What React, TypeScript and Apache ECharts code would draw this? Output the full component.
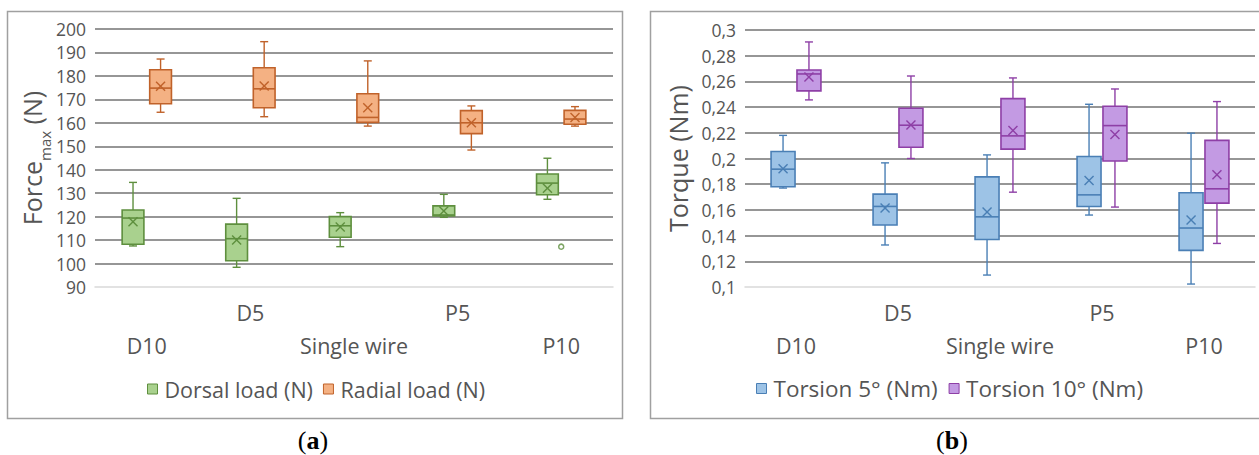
import React, { useEffect, useRef } from "react";
import * as echarts from "echarts";

const categories = ["D10", "D5", "Single wire", "P5", "P10"];
// each row: [whisker low, Q1, median, Q3, whisker high, mean]
const dorsalLoad = [
  [107.5, 108.2, 119.4, 122.8, 134.6, 117.8],
  [98.4, 101.2, 110.6, 116.8, 127.8, 110.0],
  [107.2, 111.2, 116.1, 120.0, 121.7, 115.6],
  [119.7, 120.3, 120.7, 124.6, 129.5, 122.4],
  [127.4, 129.3, 134.3, 138.2, 144.9, 132.1],
];
const radialLoad = [
  [164.5, 168.1, 174.8, 182.6, 187.2, 175.6],
  [162.6, 166.4, 174.5, 183.5, 194.6, 175.7],
  [158.6, 160.2, 162.3, 172.4, 186.4, 166.4],
  [148.4, 155.4, 160.0, 165.2, 167.2, 160.0],
  [158.6, 159.4, 161.6, 165.3, 166.9, 162.3],
];
const dorsalOutliers = [[4, 107.2]];
const torsion5 = [
  [0.177, 0.178, 0.1917, 0.2054, 0.218, 0.192],
  [0.1327, 0.1482, 0.1627, 0.1723, 0.1966, 0.1614],
  [0.1093, 0.137, 0.1546, 0.1857, 0.2028, 0.1583],
  [0.156, 0.1627, 0.1717, 0.2015, 0.2422, 0.1828],
  [0.1023, 0.1285, 0.1459, 0.1733, 0.2197, 0.1521],
];
const torsion10 = [
  [0.2456, 0.2526, 0.2658, 0.2689, 0.2907, 0.2635],
  [0.2, 0.2088, 0.2259, 0.2391, 0.2642, 0.226],
  [0.1738, 0.2073, 0.2176, 0.2466, 0.2627, 0.2217],
  [0.1622, 0.198, 0.2256, 0.2407, 0.2541, 0.2186],
  [0.1339, 0.1653, 0.1764, 0.2141, 0.2443, 0.1873],
];
const forceTicks = { min: 90, max: 200, interval: 10 };
const torqueTicks = { min: 0.1, max: 0.3, interval: 0.02 };

const FONT = "Open Sans";
const TXT = "#555555";

function boxSeries(name: string, rows: number[][], xAxisIndex: number, fill: string, stroke: string, offset: number, widthFrac: number) {
  return {
    type: "custom",
    name,
    xAxisIndex,
    yAxisIndex: xAxisIndex,
    itemStyle: { color: fill, borderColor: stroke },
    encode: { x: 0, y: [1, 2, 3, 4, 5, 6] },
    data: rows.map((r, i) => [i, ...r]),
    renderItem: (params: any, api: any) => {
      const idx = api.value(0);
      const band = api.size([1, 0])[0];
      const cx = api.coord([idx, 0])[0] + offset * band;
      const y = (k: number) => api.coord([idx, api.value(k)])[1];
      const yLo = y(1), yQ1 = y(2), yMed = y(3), yQ3 = y(4), yHi = y(5), yMean = y(6);
      const w = (widthFrac * band) / 2;
      const cap = 4;
      const ls = { stroke, lineWidth: 1.4 };
      const m = 4.5;
      return {
        type: "group",
        children: [
          { type: "line", shape: { x1: cx, y1: yHi, x2: cx, y2: yQ3 }, style: ls },
          { type: "line", shape: { x1: cx - cap, y1: yHi, x2: cx + cap, y2: yHi }, style: ls },
          { type: "line", shape: { x1: cx, y1: yLo, x2: cx, y2: yQ1 }, style: ls },
          { type: "line", shape: { x1: cx - cap, y1: yLo, x2: cx + cap, y2: yLo }, style: ls },
          { type: "rect", shape: { x: cx - w, y: yQ3, width: 2 * w, height: yQ1 - yQ3 }, style: { fill, stroke, lineWidth: 1.6 } },
          { type: "line", shape: { x1: cx - w, y1: yMed, x2: cx + w, y2: yMed }, style: { stroke, lineWidth: 1.6 } },
          { type: "line", shape: { x1: cx - m, y1: yMean - m, x2: cx + m, y2: yMean + m }, style: ls },
          { type: "line", shape: { x1: cx - m, y1: yMean + m, x2: cx + m, y2: yMean - m }, style: ls },
        ],
      };
    },
  };
}

function catAxis(gridIndex: number) {
  return {
    type: "category",
    gridIndex,
    data: categories,
    boundaryGap: true,
    axisTick: { show: false },
    axisLine: { lineStyle: { color: "#d9d9d9", width: 1.5 } },
    axisLabel: {
      interval: 0,
      margin: 9,
      color: TXT,
      fontFamily: FONT,
      fontSize: 21.5,
      lineHeight: 33,
      formatter: (v: string, i: number) => (i % 2 === 0 ? "\n" + v : v),
    },
  };
}

function valAxis(gridIndex: number, ticks: any, name: string, nameGap: number, formatter: any, rich: any) {
  return {
    type: "value",
    gridIndex,
    min: ticks.min,
    max: ticks.max,
    interval: ticks.interval,
    name,
    nameLocation: "middle",
    nameGap,
    nameTextStyle: { color: TXT, fontFamily: FONT, fontSize: 25, rich },
    axisLine: { show: false },
    axisTick: { show: false },
    axisLabel: { color: TXT, fontFamily: FONT, fontSize: 17.5, margin: 9, formatter },
    splitLine: { show: true, showMinLine: false, lineStyle: { color: "#969696", width: 2 } },
  };
}

export default function App() {
  const ref = useRef<HTMLDivElement>(null);
  useEffect(() => {
    if (!ref.current) return;
    const chart = echarts.init(ref.current, null, { renderer: "svg" });
    const G = "#a9d18e", GS = "#5e8f3e";
    const O = "#f4b183", OS = "#c0622a";
    const B = "#9dc3e6", BS = "#4a7fb5";
    const P = "#c39ae3", PS = "#8e3fa6";
    const legendText = { color: TXT, fontFamily: FONT, fontSize: 21.5, padding: [0, 0, 0, 2] };
    const legendText2 = { color: TXT, fontFamily: FONT, fontSize: 22.5, padding: [0, 0, 0, 2] };
    chart.setOption({
      animation: false,
      backgroundColor: "#ffffff",
      grid: [
        { left: 95, top: 29, width: 518, height: 258 },
        { left: 745, top: 30, width: 510, height: 257 },
      ],
      xAxis: [catAxis(0), catAxis(1)],
      yAxis: [
        valAxis(0, forceTicks, "{a|Force}{s|max}{a| (N)}", 50, (v: number) => String(v), {
          a: { fontSize: 25, fontFamily: FONT, color: TXT, lineHeight: 30, verticalAlign: "bottom" },
          s: { fontSize: 15, fontFamily: FONT, color: TXT, lineHeight: 30, verticalAlign: "bottom", padding: [0, 0, -8, 0] },
        }),
        valAxis(1, torqueTicks, "Torque (Nm)", 55, (v: number) => String(parseFloat(v.toFixed(2))).replace(".", ","), {}),
      ],
      legend: [
        {
          left: 142, top: 373, icon: "rect", itemWidth: 10, itemHeight: 10, itemGap: 10,
          textStyle: legendText,
          data: [
            { name: "Dorsal load (N)", itemStyle: { color: G, borderColor: GS, borderWidth: 1 } },
            { name: "Radial load (N)", itemStyle: { color: O, borderColor: OS, borderWidth: 1 } },
          ],
        },
        {
          left: 751, top: 372, icon: "rect", itemWidth: 10, itemHeight: 10, itemGap: 11,
          textStyle: legendText2,
          data: [
            { name: "Torsion 5° (Nm)", itemStyle: { color: B, borderColor: BS, borderWidth: 1 } },
            { name: "Torsion 10° (Nm)", itemStyle: { color: P, borderColor: PS, borderWidth: 1 } },
          ],
        },
      ],
      series: [
        boxSeries("Dorsal load (N)", dorsalLoad, 0, G, GS, -0.133, 0.21),
        boxSeries("Radial load (N)", radialLoad, 0, O, OS, 0.133, 0.21),
        {
          type: "scatter",
          name: "Dorsal outliers",
          xAxisIndex: 0,
          yAxisIndex: 0,
          symbol: "circle",
          symbolSize: 5,
          itemStyle: { color: "#ffffff", borderColor: GS, borderWidth: 1.5 },
          data: dorsalOutliers,
          encode: { x: 0, y: 1 },
          silent: true,
        },
        boxSeries("Torsion 5° (Nm)", torsion5, 1, B, BS, -0.127, 0.235),
        boxSeries("Torsion 10° (Nm)", torsion10, 1, P, PS, 0.127, 0.235),
      ],
      graphic: [
        { type: "rect", shape: { x: 7.5, y: 11.5, width: 615, height: 407 }, style: { fill: "none", stroke: "#a0a0a0", lineWidth: 1.5 }, silent: true },
        { type: "rect", shape: { x: 650.5, y: 11.5, width: 620, height: 407 }, style: { fill: "none", stroke: "#a0a0a0", lineWidth: 1.5 }, silent: true },
        {
          type: "text", x: 313, y: 440,
          style: {
            text: "({b|a})", textAlign: "center", textVerticalAlign: "middle",
            fontFamily: "Liberation Serif", fontSize: 26, fill: "#000",
            rich: { b: { fontWeight: "bold", fontFamily: "Liberation Serif", fontSize: 26, fill: "#000" } },
          },
        },
        {
          type: "text", x: 952, y: 440,
          style: {
            text: "({b|b})", textAlign: "center", textVerticalAlign: "middle",
            fontFamily: "Liberation Serif", fontSize: 26, fill: "#000",
            rich: { b: { fontWeight: "bold", fontFamily: "Liberation Serif", fontSize: 26, fill: "#000" } },
          },
        },
      ],
    });
    return () => chart.dispose();
  }, []);
  return <div ref={ref} style={{ position: "fixed", left: 0, top: 0, width: 1259, height: 455 }} />;
}
